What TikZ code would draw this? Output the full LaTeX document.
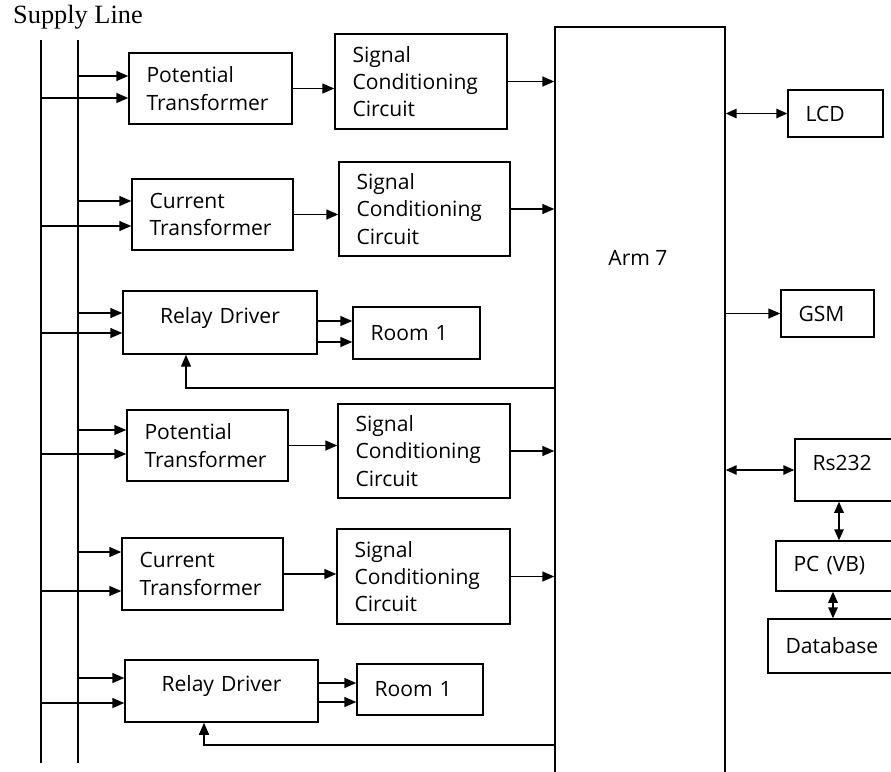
\documentclass[tikz,border=0pt]{standalone}
\usepackage{fontspec}
\setmainfont{Open Sans}
\newfontfamily\captionserif{Liberation Serif}
\usetikzlibrary{arrows.meta,calc}

\begin{document}
\begin{tikzpicture}[
    x=0.02cm, y=-0.02cm,
    box/.style={rectangle, draw, line width=0.85pt, align=left, inner xsep=0.35cm, inner ysep=0pt, font=\fontsize{12}{15.5}\selectfont},
    relaybox/.style={box, align=center, text depth=0.3cm},
    rail/.style={line width=0.85pt},
    arrow/.style={line width=0.85pt, -{Triangle[length=0.24cm, width=0.2cm]}},
    dblarrow/.style={line width=0.85pt, {Triangle[length=0.22cm, width=0.19cm]}-{Triangle[length=0.22cm, width=0.19cm]}}
  ]
    \useasboundingbox (0,0) rectangle (891,771);
    \clip (0,0) rectangle (891,771);

    % supply line
    \node[font=\captionserif\fontsize{15}{18}\selectfont] (supply) at (78,17) {Supply Line};
    \coordinate (railA) at (41,40);
    \coordinate (railB) at (78,40);
    \coordinate (railAend) at (41,763);
    \coordinate (railBend) at (78,763);
    \draw[rail] (railA) -- (railAend);
    \draw[rail] (railB) -- (railBend);

    % first group
    \node[box, text width=2.56cm, minimum height=1.42cm] (pt1) at (210.5,88.5) {Potential\\Transformer};
    \node[box, text width=2.74cm, minimum height=1.90cm] (scc1) at (421,81.5) {Signal\\Conditioning\\Circuit};
    \node[box, text width=2.52cm, minimum height=1.42cm] (ct1) at (212.5,214.5) {Current\\Transformer};
    \node[box, text width=2.72cm, minimum height=1.88cm] (scc2) at (424.5,209) {Signal\\Conditioning\\Circuit};
    \node[relaybox, text width=3.18cm, minimum height=1.26cm] (rd1) at (220,322.5) {Relay Driver};
    \node[box, text width=1.84cm, minimum height=1.04cm] (room1a) at (416.5,333) {Room 1};

    % second group
    \node[box, text width=2.52cm, minimum height=1.42cm] (pt2) at (207.5,445.5) {Potential\\Transformer};
    \node[box, text width=2.74cm, minimum height=1.88cm] (scc3) at (424,451) {Signal\\Conditioning\\Circuit};
    \node[box, text width=2.52cm, minimum height=1.44cm] (ct2) at (202.5,574) {Current\\Transformer};
    \node[box, text width=2.76cm, minimum height=1.90cm] (scc4) at (423.5,576.5) {Signal\\Conditioning\\Circuit};
    \node[relaybox, text width=3.16cm, minimum height=1.24cm] (rd2) at (221.5,691) {Relay Driver};
    \node[box, text width=1.82cm, minimum height=1.02cm] (room1b) at (420,689.5) {Room 1};

    % controller and peripherals
    \node[box, minimum width=3.4cm, minimum height=15.46cm] (arm) at (640,413.5) {};
    \node[font=\fontsize{12}{15.5}\selectfont] (armlabel) at (638,258) {Arm 7};
    \node[box, text width=1.20cm, minimum height=0.94cm] (lcd) at (835.5,113.5) {LCD};
    \node[box, text width=1.16cm, minimum height=0.94cm] (gsm) at (827.5,313.5) {GSM};
    \node[box, text width=2.0cm, minimum height=1.24cm, text depth=0.3cm] (rs) at (862.5,470) {Rs232};
    \node[box, text width=2.38cm, minimum height=1.0cm] (pc) at (853,566) {PC (VB)};
    \node[box, text width=2.54cm, minimum height=1.08cm] (db) at (849,646) {Database};

    % feeds from the supply line
    \foreach \n/\a/\b in {pt1/-12.5/9.5, ct1/-13.5/11.5, rd1/-9.5/10.5, pt2/-15.5/8.5, ct2/-22/17, rd2/-13/12}{
      \draw[arrow] (railB |- \n.west) ++(0,\a) -- ($(\n.west)+(0,\a)$);
      \draw[arrow] (railA |- \n.west) ++(0,\b) -- ($(\n.west)+(0,\b)$);
    }

    % relay driver to rooms
    \foreach \n/\m/\a/\b in {rd1/room1a/-12/9, rd2/room1b/-6.5/12.5}{
      \draw[arrow] (\n.east |- \m.west) ++(0,\a) -- ($(\m.west)+(0,\a)$);
      \draw[arrow] (\n.east |- \m.west) ++(0,\b) -- ($(\m.west)+(0,\b)$);
    }

    % transformers to conditioning, conditioning to arm
    \foreach \s/\t in {pt1/scc1, ct1/scc2, pt2/scc3, ct2/scc4}
      \draw[arrow] (\s.east) -- (\s.east -| \t.west);
    \foreach \s in {scc1, scc2, scc3, scc4}
      \draw[arrow] (\s.east) -- (\s.east -| arm.west);

    % arm back to relay drivers
    \coordinate (fb1) at (186,388);
    \coordinate (fb2) at (204,745);
    \draw[arrow] (arm.west |- fb1) -- (fb1) -- (fb1 |- rd1.south);
    \draw[arrow] (arm.west |- fb2) -- (fb2) -- (fb2 |- rd2.south);

    % right side
    \draw[dblarrow] (arm.east |- lcd.west) -- (lcd.west);
    \draw[arrow] (arm.east |- gsm.west) -- (gsm.west);
    \draw[dblarrow] (arm.east |- rs.west) -- (rs.west);
    \coordinate (linkA) at (839,0);
    \coordinate (linkB) at (833,0);
    \draw[dblarrow] (linkA |- rs.south) -- (linkA |- pc.north);
    \draw[dblarrow] (linkB |- pc.south) -- (linkB |- db.north);
  \end{tikzpicture}
\end{document}
